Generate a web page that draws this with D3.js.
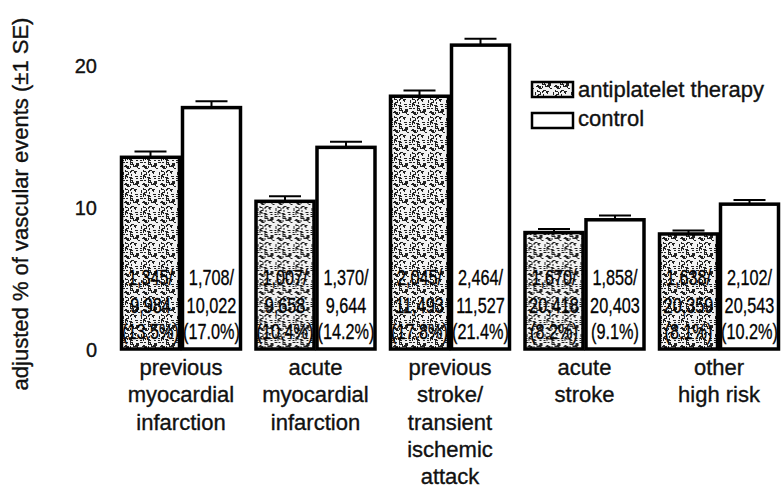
<!DOCTYPE html>
<html>
<head>
<meta charset="utf-8">
<script src="https://cdn.jsdelivr.net/npm/d3@7"></script>
<style>
  body { margin: 0; background: #fff; }
  svg { display: block; font-family: "Liberation Sans", Arial, sans-serif; }
  text { stroke: #111; stroke-width: 0.35px; }
</style>
</head>
<body>
<script>
const w = 782;
const h = 490;

// data
const categories = ['pmi', 'ami', 'pst', 'ast', 'ohr'];
const categoryLabels = [
  ['previous', 'myocardial', 'infarction'],
  ['acute', 'myocardial', 'infarction'],
  ['previous', 'stroke/', 'transient', 'ischemic', 'attack'],
  ['acute', 'stroke'],
  ['other', 'high risk']
];
const groups = ['antiplatelet', 'control'];
const antiplateletPct = [13.5, 10.4, 17.8, 8.2, 8.1];
const controlPct = [17.0, 14.2, 21.4, 9.1, 10.2];
const antiplateletSE = [0.4, 0.35, 0.4, 0.25, 0.25];
const controlSE = [0.45, 0.4, 0.45, 0.3, 0.3];
const antiplateletEvents = ['1,345/', '1,007/', '2,045/', '1,670/', '1,638/'];
const antiplateletN = ['9,984', '9,658', '11,493', '20,418', '20,359'];
const controlEvents = ['1,708/', '1,370/', '2,464/', '1,858/', '2,102/'];
const controlN = ['10,022', '9,644', '11,527', '20,403', '20,543'];
const yTicks = [0, 10, 20];
const legendLabels = ['antiplatelet therapy', 'control'];

const rows = [];
categories.forEach((c, i) => {
  rows.push({ cat: c, grp: 'antiplatelet', v: antiplateletPct[i], se: antiplateletSE[i],
    lines: [antiplateletEvents[i], antiplateletN[i], `(${antiplateletPct[i].toFixed(1)}%)`] });
  rows.push({ cat: c, grp: 'control', v: controlPct[i], se: controlSE[i],
    lines: [controlEvents[i], controlN[i], `(${controlPct[i].toFixed(1)}%)`] });
});

const svg = d3.select('body').append('svg')
  .attr('width', w)
  .attr('height', h);

svg.append('rect').attr('width', w).attr('height', h).attr('fill', '#fff');

// stippled fill for the treated bars
const defs = svg.append('defs');
const pat = defs.append('pattern')
  .attr('id', 'stipple')
  .attr('patternUnits', 'userSpaceOnUse')
  .attr('width', 18)
  .attr('height', 18);
pat.append('rect').attr('width', 18).attr('height', 18).attr('fill', '#f2f2f2');
let seed = 7;
const next = () => { seed = (seed * 1103515245 + 12345) % 2147483648; return seed / 2147483648; };
for (let k = 0; k < 52; k++) {
  const horiz = next() > 0.5;
  pat.append('rect')
    .attr('x', Math.floor(next() * 18))
    .attr('y', Math.floor(next() * 18))
    .attr('width', horiz ? 2 + Math.floor(next() * 2) : 1)
    .attr('height', horiz ? 1 : 2)
    .attr('fill', '#222');
}

const x0 = d3.scaleBand().domain(categories).range([120, 780]).paddingInner(0.093);
const x1 = d3.scaleBand().domain(groups).range([0, x0.bandwidth()]);
const y = d3.scaleLinear().domain([0, 20]).range([349, 65]);

// y tick labels only, no axis line
const yAxis = d3.axisLeft(y).tickValues(yTicks).tickSize(0).tickPadding(0);
const ya = svg.append('g')
  .attr('transform', 'translate(97,0)')
  .call(yAxis);
ya.select('.domain').remove();
ya.selectAll('text')
  .attr('font-family', '"Liberation Sans", Arial, sans-serif')
  .attr('font-size', 20)
  .attr('fill', '#111')
  .attr('dy', '0.36em');

svg.append('text')
  .attr('transform', 'rotate(-90)')
  .attr('x', -204)
  .attr('y', 28)
  .attr('text-anchor', 'middle')
  .attr('font-size', 22)
  .attr('fill', '#111')
  .text('adjusted % of vascular events (±1 SE)');

const bars = svg.append('g').selectAll('g')
  .data(rows)
  .join('g')
  .attr('transform', d => `translate(${x0(d.cat) + x1(d.grp)},0)`);

bars.append('rect')
  .attr('x', 1.5)
  .attr('y', d => y(d.v))
  .attr('width', x1.bandwidth() - 3)
  .attr('height', d => y(0) - y(d.v))
  .attr('fill', d => d.grp === 'antiplatelet' ? 'url(#stipple)' : '#fff')
  .attr('stroke', '#000')
  .attr('stroke-width', 3.5);

// +1 SE whiskers
bars.append('line')
  .attr('x1', x1.bandwidth() / 2)
  .attr('x2', x1.bandwidth() / 2)
  .attr('y1', d => y(d.v))
  .attr('y2', d => y(d.v + d.se))
  .attr('stroke', '#000')
  .attr('stroke-width', 2);
bars.append('line')
  .attr('x1', x1.bandwidth() / 2 - 16)
  .attr('x2', x1.bandwidth() / 2 + 16)
  .attr('y1', d => y(d.v + d.se))
  .attr('y2', d => y(d.v + d.se))
  .attr('stroke', '#000')
  .attr('stroke-width', 2);

// counts written inside each bar
const lineY = [285, 313, 339];
bars.each(function (d) {
  const g = d3.select(this);
  d.lines.forEach((t, i) => {
    g.append('text')
      .attr('transform', `translate(${x1.bandwidth() / 2},${lineY[i]}) scale(0.74,1)`)
      .attr('text-anchor', 'middle')
      .attr('font-size', 22)
      .attr('fill', '#000')
      .text(t);
  });
});

// category labels
const cats = svg.append('g').selectAll('text')
  .data(categories)
  .join('text')
  .attr('x', d => x0(d) + x0.bandwidth() / 2)
  .attr('y', 375)
  .attr('text-anchor', 'middle')
  .attr('font-size', 22)
  .attr('fill', '#111');
cats.each(function (d, i) {
  d3.select(this).selectAll('tspan')
    .data(categoryLabels[i])
    .join('tspan')
    .attr('x', x0(d) + x0.bandwidth() / 2)
    .attr('dy', (t, j) => j === 0 ? 0 : 27.3)
    .text(t => t);
});

// legend
const legend = svg.append('g').attr('transform', 'translate(532,82)');
legend.selectAll('rect')
  .data(groups)
  .join('rect')
  .attr('x', 0)
  .attr('y', (d, i) => i * 31)
  .attr('width', 41)
  .attr('height', 15)
  .attr('fill', d => d === 'antiplatelet' ? 'url(#stipple)' : '#fff')
  .attr('stroke', '#000')
  .attr('stroke-width', 2.5);
legend.selectAll('text')
  .data(legendLabels)
  .join('text')
  .attr('x', 46)
  .attr('y', (d, i) => 15 + i * 29)
  .attr('font-size', 22)
  .attr('fill', '#111')
  .text(d => d);
</script>
</body>
</html>
